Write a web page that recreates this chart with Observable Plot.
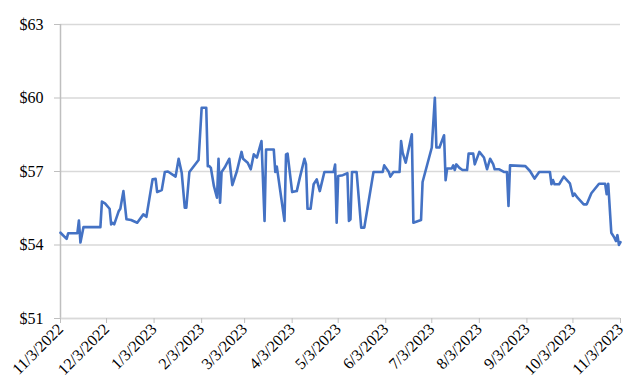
<!DOCTYPE html>
<html><head><meta charset="utf-8">
<script src="https://cdn.jsdelivr.net/npm/d3@7"></script>
<script src="https://cdn.jsdelivr.net/npm/@observablehq/plot@0.6"></script>
<style>
html,body{margin:0;padding:0;background:#fff}
#chart svg, #chart svg text{font-family:"Times New Roman","Liberation Serif",serif !important}
</style>
</head><body><div id="chart"></div>
<script>
const dates = [
"2022-11-03","2022-11-07","2022-11-08","2022-11-14","2022-11-15","2022-11-16","2022-11-18","2022-11-29","2022-11-30",
"2022-12-02","2022-12-05","2022-12-06","2022-12-07","2022-12-08","2022-12-11","2022-12-12","2022-12-14","2022-12-16",
"2022-12-19","2022-12-23","2022-12-27","2022-12-29",
"2023-01-02","2023-01-04","2023-01-05","2023-01-08","2023-01-10","2023-01-12","2023-01-17","2023-01-19","2023-01-21",
"2023-01-23","2023-01-24","2023-01-26",
"2023-02-01","2023-02-03","2023-02-06","2023-02-07","2023-02-08","2023-02-09","2023-02-11","2023-02-13","2023-02-14",
"2023-02-15","2023-02-16","2023-02-18","2023-02-21","2023-02-23","2023-02-26",
"2023-03-01","2023-03-02","2023-03-05","2023-03-07","2023-03-09","2023-03-11","2023-03-14","2023-03-16","2023-03-17",
"2023-03-22","2023-03-23","2023-03-24","2023-03-29","2023-03-30","2023-03-31",
"2023-04-03","2023-04-06","2023-04-08","2023-04-11","2023-04-12","2023-04-13","2023-04-15","2023-04-17","2023-04-19",
"2023-04-21","2023-04-24","2023-04-30",
"2023-05-01","2023-05-02","2023-05-03","2023-05-06","2023-05-09","2023-05-10","2023-05-11","2023-05-12","2023-05-15",
"2023-05-18","2023-05-20","2023-05-26",
"2023-06-01","2023-06-02","2023-06-05","2023-06-06","2023-06-08","2023-06-12","2023-06-13","2023-06-14","2023-06-16",
"2023-06-20","2023-06-21","2023-06-26","2023-06-27",
"2023-07-03","2023-07-05","2023-07-06","2023-07-08","2023-07-11","2023-07-12","2023-07-13","2023-07-16","2023-07-17",
"2023-07-18","2023-07-19","2023-07-21","2023-07-23","2023-07-26","2023-07-27","2023-07-30","2023-07-31",
"2023-08-03","2023-08-06","2023-08-08","2023-08-10","2023-08-12","2023-08-13","2023-08-16","2023-08-19","2023-08-21",
"2023-08-22","2023-08-23",
"2023-09-02","2023-09-05","2023-09-08","2023-09-11","2023-09-18","2023-09-19","2023-09-20","2023-09-21","2023-09-24",
"2023-09-27",
"2023-10-01","2023-10-03","2023-10-04","2023-10-06","2023-10-10","2023-10-12","2023-10-15","2023-10-20","2023-10-24",
"2023-10-25","2023-10-26","2023-10-28","2023-10-30","2023-10-31",
"2023-11-01","2023-11-02","2023-11-03"
];
const prices = [
54.50,54.25,54.48,54.48,55.00,54.10,54.73,54.73,55.77,
55.70,55.48,54.84,54.90,54.84,55.39,55.48,56.20,55.05,
55.02,54.91,55.25,55.15,
56.68,56.70,56.16,56.24,56.98,57.00,56.79,57.52,56.95,
55.52,55.52,56.98,
57.47,59.60,59.60,57.22,57.22,57.15,56.40,55.93,57.52,
55.73,56.98,57.16,57.52,56.44,57.02,
57.80,57.52,57.36,57.09,57.70,57.57,58.24,54.98,57.90,
57.90,56.98,57.20,54.98,57.70,57.73,
56.16,56.20,56.75,57.52,57.30,55.48,55.48,56.48,56.68,
56.20,56.98,56.98,
57.28,54.91,56.82,56.85,56.93,54.98,55.05,56.98,56.98,
54.71,54.71,56.98,
56.98,57.25,56.98,56.79,56.98,56.98,58.24,57.77,57.36,
58.52,54.91,55.02,56.57,
57.98,60.01,57.98,57.98,58.48,56.64,57.12,57.12,57.25,
57.06,57.29,57.15,57.06,57.06,57.73,57.73,57.29,
57.80,57.57,57.09,57.52,57.30,57.09,57.09,56.98,56.98,
55.59,57.25,
57.22,57.02,56.71,56.98,56.98,56.48,56.65,56.48,56.48,
56.79,
56.52,56.00,56.10,55.93,55.66,55.66,56.11,56.50,56.50,
56.07,56.50,54.50,54.30,54.16,
54.40,54.00,54.12
];
const xTickLabels = ["11/3/2022","12/3/2022","1/3/2023","2/3/2023","3/3/2023","4/3/2023","5/3/2023",
  "6/3/2023","7/3/2023","8/3/2023","9/3/2023","10/3/2023","11/3/2023"];
const yTicks = [51,54,57,60,63];

const serif = "Times New Roman, Liberation Serif, serif";
const parseISO = d3.utcParse("%Y-%m-%d");
const parseUS = d3.utcParse("%m/%d/%Y");
const data = dates.map((d,i)=>({date: parseISO(d), price: prices[i]}));
const tickDates = xTickLabels.map(parseUS);
const labelOf = new Map(tickDates.map((d,i)=>[+d, xTickLabels[i]]));

const chart = Plot.plot({
  width: 640, height: 392,
  marginLeft: 60, marginRight: 20, marginTop: 24, marginBottom: 74,
  style: {background:"#fff", color:"#000", fontFamily: serif},
  x: {type:"utc", domain:[tickDates[0], tickDates[tickDates.length-1]], label:null},
  y: {domain:[51,63], label:null},
  marks: [
    Plot.gridY(yTicks, {stroke:"#d9d9d9", strokeOpacity:1, strokeWidth:1.5}),
    Plot.ruleX([tickDates[0]], {stroke:"#bfbfbf", strokeWidth:1.5}),
    Plot.ruleY([51], {stroke:"#d9d9d9", strokeWidth:1.5}),
    Plot.axisY(yTicks, {tickFormat: d=>"$"+d, tickSize:6, tickPadding:11, stroke:"#bfbfbf", fontSize:16, fill:"#000", fontFamily: serif, label:null}),
    Plot.axisX(tickDates, {tickFormat: d=>labelOf.get(+d), tickRotate:-45, tickSize:5, tickPadding:3, stroke:"#bfbfbf", fontSize:16, fill:"#000", fontFamily: serif, label:null}),
    Plot.lineY(data, {x:"date", y:"price", stroke:"#4472C4", strokeWidth:2.6, strokeLinejoin:"round"})
  ]
});
document.getElementById("chart").append(chart);
</script>
</body></html>
